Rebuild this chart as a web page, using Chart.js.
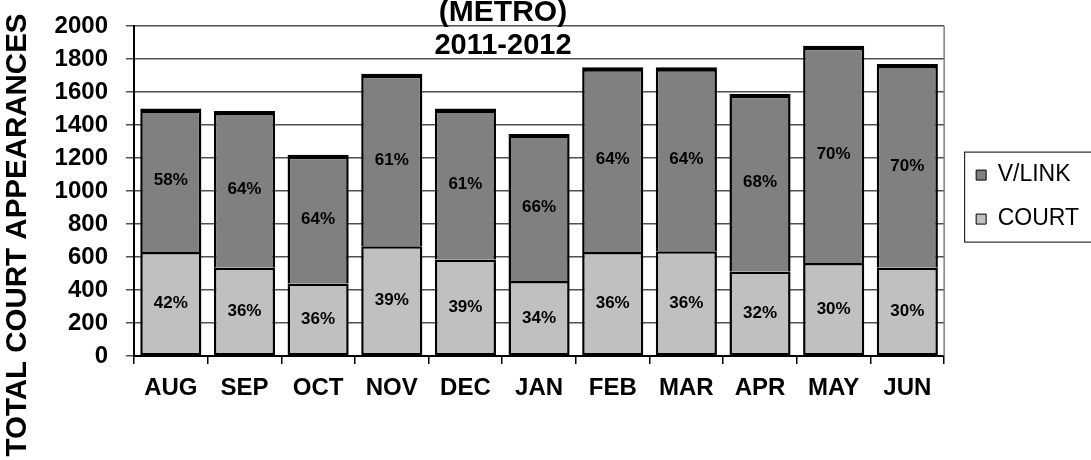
<!DOCTYPE html>
<html>
<head>
<meta charset="utf-8">
<script src="https://cdn.jsdelivr.net/npm/chart.js@4"></script>
<style>
  body { margin: 0; background: #fff; }
  #wrap { width: 1091px; height: 460px; }
</style>
</head>
<body>
<div id="wrap"><canvas id="c" width="1091" height="460"></canvas></div>
<script>
var months = ['AUG', 'SEP', 'OCT', 'NOV', 'DEC', 'JAN', 'FEB', 'MAR', 'APR', 'MAY', 'JUN'];
var court = [630, 535, 440, 665, 585, 455, 630, 635, 510, 564, 535];
var vlink = [870, 950, 780, 1045, 915, 890, 1120, 1115, 1080, 1316, 1235];
var courtPct = ['42%', '36%', '36%', '39%', '39%', '34%', '36%', '36%', '32%', '30%', '30%'];
var vlinkPct = ['58%', '64%', '64%', '61%', '61%', '66%', '64%', '64%', '68%', '70%', '70%'];
var yTicks = [0, 200, 400, 600, 800, 1000, 1200, 1400, 1600, 1800, 2000];

var FONT = "'Liberation Sans', Arial, sans-serif";

// percent labels, titles, axis title, legend frame
var extras = {
    id: 'extras',
    beforeDatasetsDraw: function(chart) {
        var ctx = chart.ctx, a = chart.chartArea;
        ctx.save();
        ctx.strokeStyle = '#808080';
        ctx.lineWidth = 1.5;
        ctx.beginPath();
        ctx.moveTo(a.right, a.top);
        ctx.lineTo(a.right, a.bottom);
        ctx.stroke();
        ctx.restore();
    },
    afterDatasetsDraw: function(chart) {
        var ctx = chart.ctx;
        var labels = [courtPct, vlinkPct];
        ctx.save();
        ctx.font = 'bold 17px ' + FONT;
        ctx.fillStyle = '#000';
        ctx.textAlign = 'center';
        ctx.textBaseline = 'middle';
        for (var d = 0; d < 2; d++) {
            var meta = chart.getDatasetMeta(d);
            meta.data.forEach(function(el, i) {
                ctx.fillText(labels[d][i], el.x, (el.y + el.base) / 2);
            });
        }
        ctx.restore();
    },
    afterDraw: function(chart) {
        var ctx = chart.ctx;
        ctx.save();
        ctx.fillStyle = '#000';
        ctx.textAlign = 'center';
        ctx.textBaseline = 'alphabetic';
        ctx.font = 'bold 30px ' + FONT;
        ctx.fillText('(METRO)', 503, 21);
        ctx.font = 'bold 29px ' + FONT;
        ctx.fillText('2011-2012', 503, 54);

        ctx.translate(18, 235);
        ctx.rotate(-Math.PI / 2);
        ctx.textBaseline = 'middle';
        ctx.font = 'bold 29.5px ' + FONT;
        ctx.fillText('TOTAL COURT APPEARANCES', 0, 0);
        ctx.restore();

        var boxes = chart.legend.legendHitBoxes;
        if (boxes && boxes.length) {
            var top = boxes[0].top - 12;
            var bottom = boxes[boxes.length - 1].top + boxes[boxes.length - 1].height + 11;
            ctx.save();
            ctx.strokeStyle = '#000';
            ctx.lineWidth = 1;
            ctx.strokeRect(boxes[0].left - 11.5, top + 0.5, 200, bottom - top);
            ctx.restore();
        }
    }
};

new Chart(document.getElementById('c'), {
    type: 'bar',
    data: {
        labels: months,
        datasets: [{
            label: 'COURT',
            data: court,
            backgroundColor: '#C0C0C0',
            borderColor: '#000',
            borderWidth: 2.5,
            borderSkipped: false
        }, {
            label: 'V/LINK',
            data: vlink,
            backgroundColor: '#808080',
            borderColor: '#000',
            borderWidth: {top: 4.5, left: 2.5, right: 2.5, bottom: 0},
            borderSkipped: false
        }]
    },
    options: {
        responsive: false,
        animation: false,
        devicePixelRatio: 1,
        layout: {padding: {top: 26, left: 0, right: 2, bottom: 0}},
        datasets: {bar: {categoryPercentage: 1, barPercentage: 0.83}},
        plugins: {
            title: {display: false},
            tooltip: {enabled: false},
            legend: {
                position: 'right',
                fullSize: false,
                reverse: true,
                title: {display: true, text: '', font: {size: 1}, padding: {top: 11, bottom: 0}},
                labels: {
                    boxWidth: 10,
                    boxHeight: 10,
                    padding: 21,
                    color: '#000',
                    font: {family: FONT, size: 23},
                    generateLabels: function(chart) {
                        var items = Chart.defaults.plugins.legend.labels.generateLabels(chart);
                        items.forEach(function(it) { it.lineWidth = 1; it.strokeStyle = '#000'; });
                        return items;
                    }
                }
            }
        },
        scales: {
            x: {
                stacked: true,
                grid: {offset: true, drawOnChartArea: false, drawTicks: true, tickLength: 8, color: '#000', lineWidth: 1.5},
                border: {display: true, color: '#000', width: 2},
                ticks: {color: '#000', padding: 10, font: {family: FONT, size: 24, weight: 'bold'}},
                afterFit: function(s) { s.height = 104; s.paddingLeft = 0; s.paddingRight = 0; }
            },
            y: {
                stacked: true,
                min: 0,
                max: 2000,
                afterBuildTicks: function(s) { s.ticks = yTicks.map(function(v) { return {value: v}; }); },
                grid: {color: '#505050', lineWidth: 1.5, tickLength: 8},
                border: {display: true, color: '#000', width: 2},
                ticks: {
                    color: '#000', padding: 18, font: {family: FONT, size: 24, weight: 'bold'},
                    callback: function(v) { return String(v); }
                },
                afterFit: function(s) { s.width = 134; s.paddingTop = 0; s.paddingBottom = 0; }
            },
            gap: {
                position: 'right',
                display: true,
                grid: {display: false},
                border: {display: false},
                ticks: {display: false},
                afterFit: function(s) { s.width = 11; }
            }
        }
    },
    plugins: [extras]
});
</script>
</body>
</html>
